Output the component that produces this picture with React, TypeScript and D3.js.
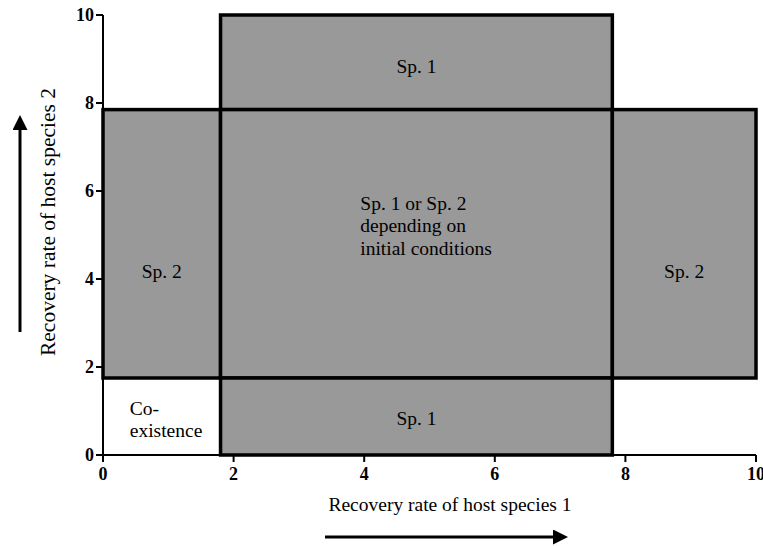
import React from "react";
import * as d3 from "d3";

// outcome regions in parameter space (recovery rate sp.1, recovery rate sp.2)
const regionNames = ["top", "left", "center", "right", "bottom"];
const regionX0 = [1.8, 0, 1.8, 7.8, 1.8];
const regionX1 = [7.8, 1.8, 7.8, 10, 7.8];
const regionY0 = [7.85, 1.75, 1.75, 1.75, 0];
const regionY1 = [10, 7.85, 7.85, 7.85, 1.75];
const regionLabels = [
  ["Sp. 1"],
  ["Sp. 2"],
  ["Sp. 1 or Sp. 2", "depending on", "initial conditions"],
  ["Sp. 2"],
  ["Sp. 1"],
];
// where the first label line sits (data units)
const labelX = [4.8, 0.9, 3.94, 8.9, 4.8];
const labelY = [8.68, 4.02, 5.57, 4.02, 0.68];
const coexistLabel = ["Co-", "existence"];
const xTicks = [0, 2, 4, 6, 8, 10];
const yTicks = [0, 2, 4, 6, 8, 10];

export default function App() {
  const width = 763;
  const height = 546;
  const x = d3.scaleLinear().domain([0, 10]).range([103, 756]);
  const y = d3.scaleLinear().domain([0, 10]).range([455, 15]);
  const font = "Liberation Serif, Times New Roman, DejaVu Serif, serif";

  return (
    <svg
      width={width}
      height={height}
      style={{ position: "absolute", left: 0, top: 0, background: "#fff", fontFamily: font }}
    >
      {/* regions */}
      {regionNames.map((n, i) => (
        <rect
          key={n}
          x={x(regionX0[i])}
          y={y(regionY1[i])}
          width={x(regionX1[i]) - x(regionX0[i])}
          height={y(regionY0[i]) - y(regionY1[i])}
          fill="#999999"
          stroke="#000"
          strokeWidth={3.5}
        />
      ))}
      {/* region labels */}
      {regionNames.map((n, i) => {
        const lines = regionLabels[i];
        const multi = lines.length > 1;
        const lx = x(labelX[i]);
        return (
          <text
            key={n + "-l"}
            x={lx}
            y={y(labelY[i])}
            fontSize={19.5}
            textAnchor={multi ? "start" : "middle"}
            fill="#000"
          >
            {lines.map((t, j) => (
              <tspan key={j} x={lx} dy={j === 0 ? 0 : 22.5}>
                {t}
              </tspan>
            ))}
          </text>
        );
      })}
      <text x={x(0.41)} y={y(0.91)} fontSize={19.5} fill="#000">
        {coexistLabel.map((t, j) => (
          <tspan key={j} x={x(0.41)} dy={j === 0 ? 0 : 22}>
            {t}
          </tspan>
        ))}
      </text>

      {/* y axis */}
      <line x1={x(0)} x2={x(0)} y1={y(0)} y2={y(10)} stroke="#000" strokeWidth={2} />
      {yTicks.map((t) => (
        <g key={"y" + t} transform={`translate(${x(0)},${y(t)})`}>
          <line x1={-7} x2={0} stroke="#000" strokeWidth={2} />
          <text x={-9} dy="0.35em" textAnchor="end" fontSize={18} fontWeight="bold">
            {t}
          </text>
        </g>
      ))}
      {/* x axis */}
      <line x1={x(0)} x2={x(10)} y1={y(0)} y2={y(0)} stroke="#000" strokeWidth={2} />
      {xTicks.map((t) => (
        <g key={"x" + t} transform={`translate(${x(t)},${y(0)})`}>
          <line y1={0} y2={7} stroke="#000" strokeWidth={2} />
          <text y={25} textAnchor="middle" fontSize={18} fontWeight="bold">
            {t}
          </text>
        </g>
      ))}

      {/* axis titles */}
      <text x={450} y={511} textAnchor="middle" fontSize={19.5}>
        Recovery rate of host species 1
      </text>
      <text transform="translate(55,222) rotate(-90)" textAnchor="middle" fontSize={21.5}>
        Recovery rate of host species 2
      </text>

      {/* arrows */}
      <defs>
        <marker id="ah" viewBox="0 0 10 10" refX="0" refY="5" markerWidth="6" markerHeight="5" orient="auto">
          <path d="M0,0 L10,5 L0,10 z" fill="#000" />
        </marker>
      </defs>
      <line x1={325} x2={553} y1={537} y2={537} stroke="#000" strokeWidth={3} markerEnd="url(#ah)" />
      <line x1={20} x2={20} y1={332} y2={130} stroke="#000" strokeWidth={3} markerEnd="url(#ah)" />
    </svg>
  );
}
